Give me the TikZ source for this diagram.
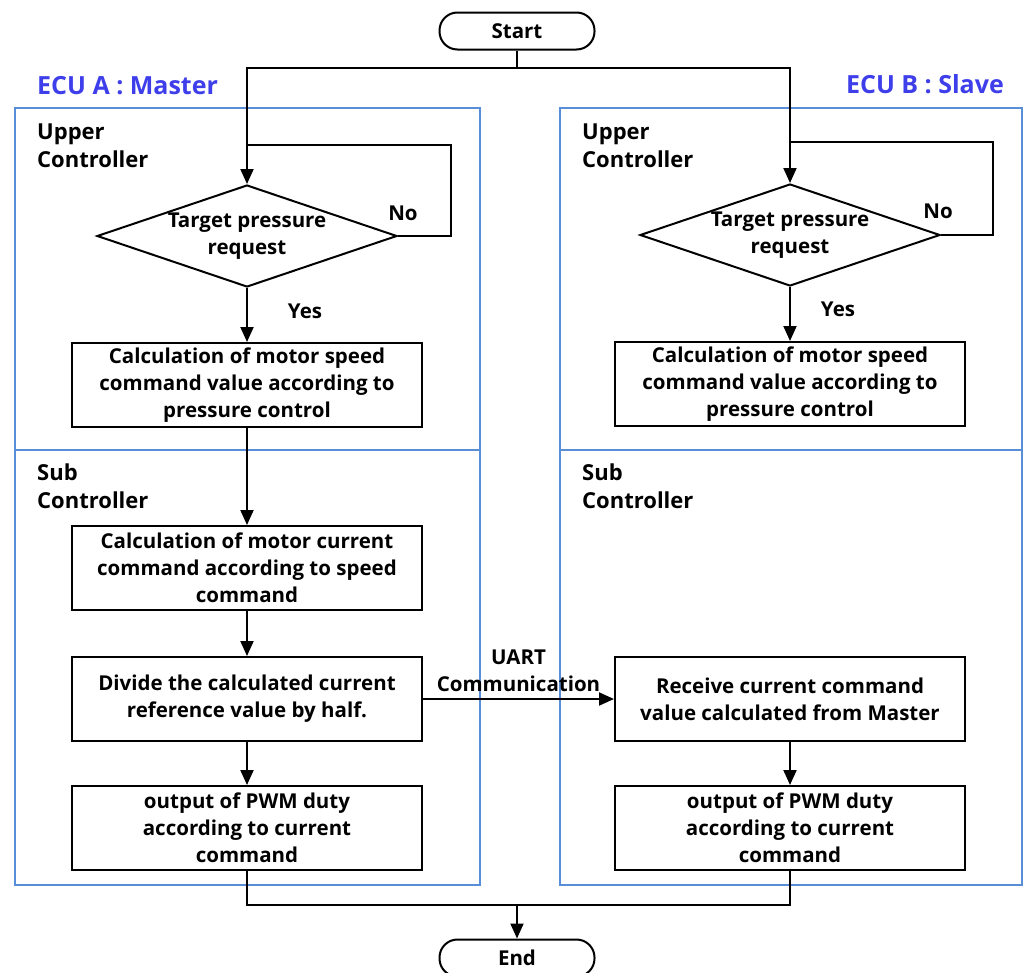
\documentclass[tikz,border=0pt]{standalone}
\usepackage{fontspec}
\setmainfont{Open Sans}
\usetikzlibrary{shapes.geometric,arrows.meta}
\definecolor{frameblue}{RGB}{88,142,215}
\definecolor{ecublue}{RGB}{62,62,235}
\begin{document}
\begin{tikzpicture}[x=1pt,y=-1pt,
  every node/.style={font=\bfseries\fontsize{20.5}{27}\selectfont},
  proc/.style={draw,line width=2pt,minimum width=350pt,minimum height=84pt,align=center,inner sep=0pt},
  term/.style={draw,line width=2pt,rounded corners=18pt,minimum width=155pt,minimum height=37pt,inner sep=0pt},
  decision/.style={draw,line width=2pt,diamond,aspect=3,inner sep=0pt,minimum width=300pt,minimum height=102pt,align=center},
  flow/.style={line width=2pt},
  arrowflow/.style={flow,-{Triangle[length=15pt,width=13pt]}},
  frame/.style={draw=frameblue,line width=2pt},
  tag/.style={text=ecublue,font=\bfseries\fontsize{25}{28}\selectfont,inner sep=0pt},
  section/.style={align=left,anchor=west,inner sep=0pt,font=\bfseries\fontsize{22}{28}\selectfont},
  note/.style={inner sep=0pt,align=center},
  ]
\useasboundingbox (0,0) rectangle (1027,972);

% ECU frames with their upper/sub split
\draw[frame] (15,108) rectangle (480,885);
\draw[frame] (15,450) -- (480,450);
\draw[frame] (560,108) rectangle (1022,885);
\draw[frame] (560,450) -- (1022,450);

\node[tag,anchor=west] (ecuA) at (37,86) {ECU A : Master};
\node[tag,anchor=east] (ecuB) at (1004,84) {ECU B : Slave};

\node[section] (upA) at (37,146) {Upper\\Controller};
\node[section] (subA) at (37,486) {Sub\\Controller};
\node[section] (upB) at (582,146) {Upper\\Controller};
\node[section] (subB) at (582,486) {Sub\\Controller};

% terminals
\node[term] (start) at (517,31) {Start};
\node[term] (end) at (517,958) {End};

% master chain
\node[decision] (dA) at (247,236) {Target pressure\\request};
\node[proc] (a1) at (247,385) {Calculation of motor speed\\command value according to\\pressure control};
\node[proc] (a2) at (247,568) {Calculation of motor current\\command according to speed\\command};
\node[proc] (a3) at (247,699) {Divide the calculated current\\reference value by half.};
\node[proc] (a4) at (247,828) {output of PWM duty\\according to current\\command};

% slave chain
\node[decision] (dB) at (790,235) {Target pressure\\request};
\node[proc] (b1) at (790,384) {Calculation of motor speed\\command value according to\\pressure control};
\node[proc] (b3) at (790,699) {Receive current command\\value calculated from Master};
\node[proc] (b4) at (790,828) {output of PWM duty\\according to current\\command};

% branch labels
\node[note] (noA) at (403,213) {No};
\node[note] (yesA) at (305,311) {Yes};
\node[note] (noB) at (938,211) {No};
\node[note] (yesB) at (838,309) {Yes};

% start split
\coordinate (split) at (517,68);
\draw[flow] (start) -- (split);
\draw[arrowflow] (split) -| (dA.north);
\draw[arrowflow] (split) -| (dB.north);

% wait loops
\coordinate (jA) at (247,145);
\coordinate (jB) at (790,142);
\draw[flow] (dA.east) -- ++(53,0) |- (jA);
\draw[flow] (dB.east) -- ++(52,0) |- (jB);

% main flow
\draw[arrowflow] (dA) -- (a1);
\draw[arrowflow] (a1) -- (a2);
\draw[arrowflow] (a2) -- (a3);
\draw[arrowflow] (a3) -- (a4);
\draw[arrowflow] (dB) -- (b1);
\draw[arrowflow] (b3) -- (b4);

\draw[arrowflow] (a3.east) -- (b3.west)
  node[midway,above=6pt,note] (uart) {UART\\Communication};

% merge to end
\coordinate (merge) at (517,905);
\draw[flow] (a4.south) |- (merge) -| (b4.south);
\draw[arrowflow] (merge) -- (end);
\end{tikzpicture}
\end{document}
